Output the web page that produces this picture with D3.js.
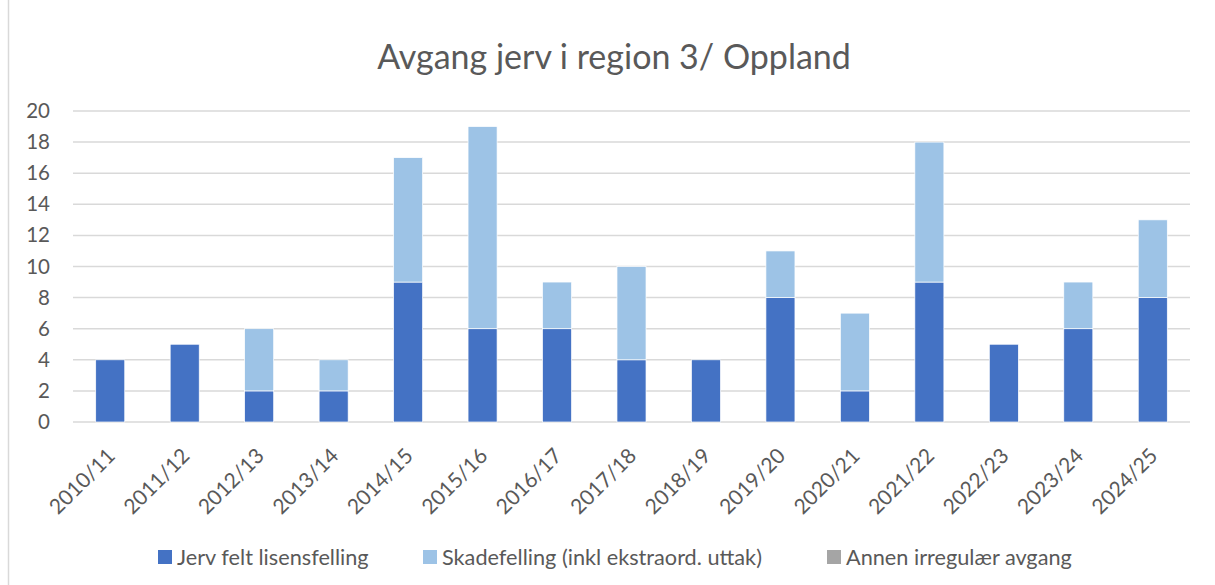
<!DOCTYPE html>
<html>
<head>
<meta charset="utf-8">
<script src="https://cdn.jsdelivr.net/npm/d3@7"></script>
<style>
  body { margin: 0; background: #fff; }
  text { font-family: Lato, "Open Sans", sans-serif; fill: #595959; }
</style>
</head>
<body>
<div id="chart"></div>
<script>
var seasons = ["2010/11","2011/12","2012/13","2013/14","2014/15","2015/16","2016/17","2017/18","2018/19","2019/20","2020/21","2021/22","2022/23","2023/24","2024/25"];
var lisensfelling = [4,5,2,2,9,6,6,4,4,8,2,9,5,6,8];
var skadefelling  = [0,0,4,2,8,13,3,6,0,3,5,9,0,3,5];
var annen         = [0,0,0,0,0,0,0,0,0,0,0,0,0,0,0];
var seriesNames = ["Jerv felt lisensfelling","Skadefelling (inkl ekstraord. uttak)","Annen irregulær avgang"];
var yTicks = [0,2,4,6,8,10,12,14,16,18,20];

var W = 1215, H = 585;
var margin = {top: 111, right: 25, bottom: 163, left: 73};
var width = W - margin.left - margin.right,
    height = H - margin.top - margin.bottom;
var colors = ["#4472C4","#9DC3E6","#A5A5A5"];

var rows = seasons.map(function(s, i){
  return {season: s, a: lisensfelling[i], b: skadefelling[i], c: annen[i]};
});
var stack = d3.stack().keys(["a","b","c"]);
var layers = stack(rows);

var svg = d3.select("#chart").append("svg")
    .attr("width", W).attr("height", H);

// chart frame (left edge visible)
svg.append("line")
    .attr("x1", 8.5).attr("x2", 8.5).attr("y1", 0).attr("y2", H)
    .attr("stroke", "#D9D9D9").attr("stroke-width", 1.5);

svg.append("text")
    .attr("x", 614).attr("y", 69)
    .attr("text-anchor", "middle")
    .style("font-size", "34px")
    .text("Avgang jerv i region 3/ Oppland");

var g = svg.append("g")
    .attr("transform", "translate(" + margin.left + "," + margin.top + ")");

var x = d3.scaleBand().domain(seasons).range([0, width]).paddingInner(0.61).paddingOuter(0.305);
var y = d3.scaleLinear().domain([0, 20]).range([height, 0]);

// gridlines
g.append("g").selectAll("line")
    .data(yTicks)
  .enter().append("line")
    .attr("x1", 0).attr("x2", width)
    .attr("y1", function(d){ return y(d); })
    .attr("y2", function(d){ return y(d); })
    .attr("stroke", "#D9D9D9").attr("stroke-width", 1.5);

// y axis labels
var yAxis = g.append("g")
    .call(d3.axisLeft(y).tickValues(yTicks).tickSize(0).tickPadding(23));
yAxis.select(".domain").remove();
yAxis.selectAll("text")
    .style("font-size", "20.5px")
    .style("font-family", "Lato, sans-serif")
    .attr("fill", "#595959");

// bars
g.selectAll(".layer")
    .data(layers)
  .enter().append("g")
    .attr("class", "layer")
    .attr("fill", function(d, i){ return colors[i]; })
  .selectAll("rect")
    .data(function(d){ return d; })
  .enter().append("rect")
    .filter(function(d){ return d[1] > d[0]; })
    .attr("x", function(d){ return x(d.data.season); })
    .attr("width", x.bandwidth())
    .attr("y", function(d){ return y(d[1]); })
    .attr("height", function(d){ return y(d[0]) - y(d[1]); })
    .attr("stroke", "#fff").attr("stroke-width", 0.7);

// x axis labels
var xAxis = g.append("g")
    .attr("transform", "translate(0," + height + ")")
    .call(d3.axisBottom(x).tickSize(0));
xAxis.select(".domain").remove();
xAxis.selectAll("text")
    .style("font-size", "21px")
    .style("font-family", "Lato, sans-serif")
    .attr("fill", "#595959")
    .attr("text-anchor", "end")
    .attr("y", 0)
    .attr("dy", "0.35em")
    .attr("transform", "translate(1,30) rotate(-45)");

// legend
var legendX = [158, 423, 827];
var legend = svg.append("g").selectAll("g")
    .data(seriesNames)
  .enter().append("g")
    .attr("transform", function(d, i){ return "translate(" + legendX[i] + ",557)"; });
legend.append("rect")
    .attr("x", 0).attr("y", -7).attr("width", 14).attr("height", 14)
    .attr("fill", function(d, i){ return colors[i]; });
legend.append("text")
    .attr("x", 19).attr("y", 0).attr("dy", "0.35em")
    .style("font-size", "21.7px")
    .text(function(d){ return d; });
</script>
</body>
</html>
